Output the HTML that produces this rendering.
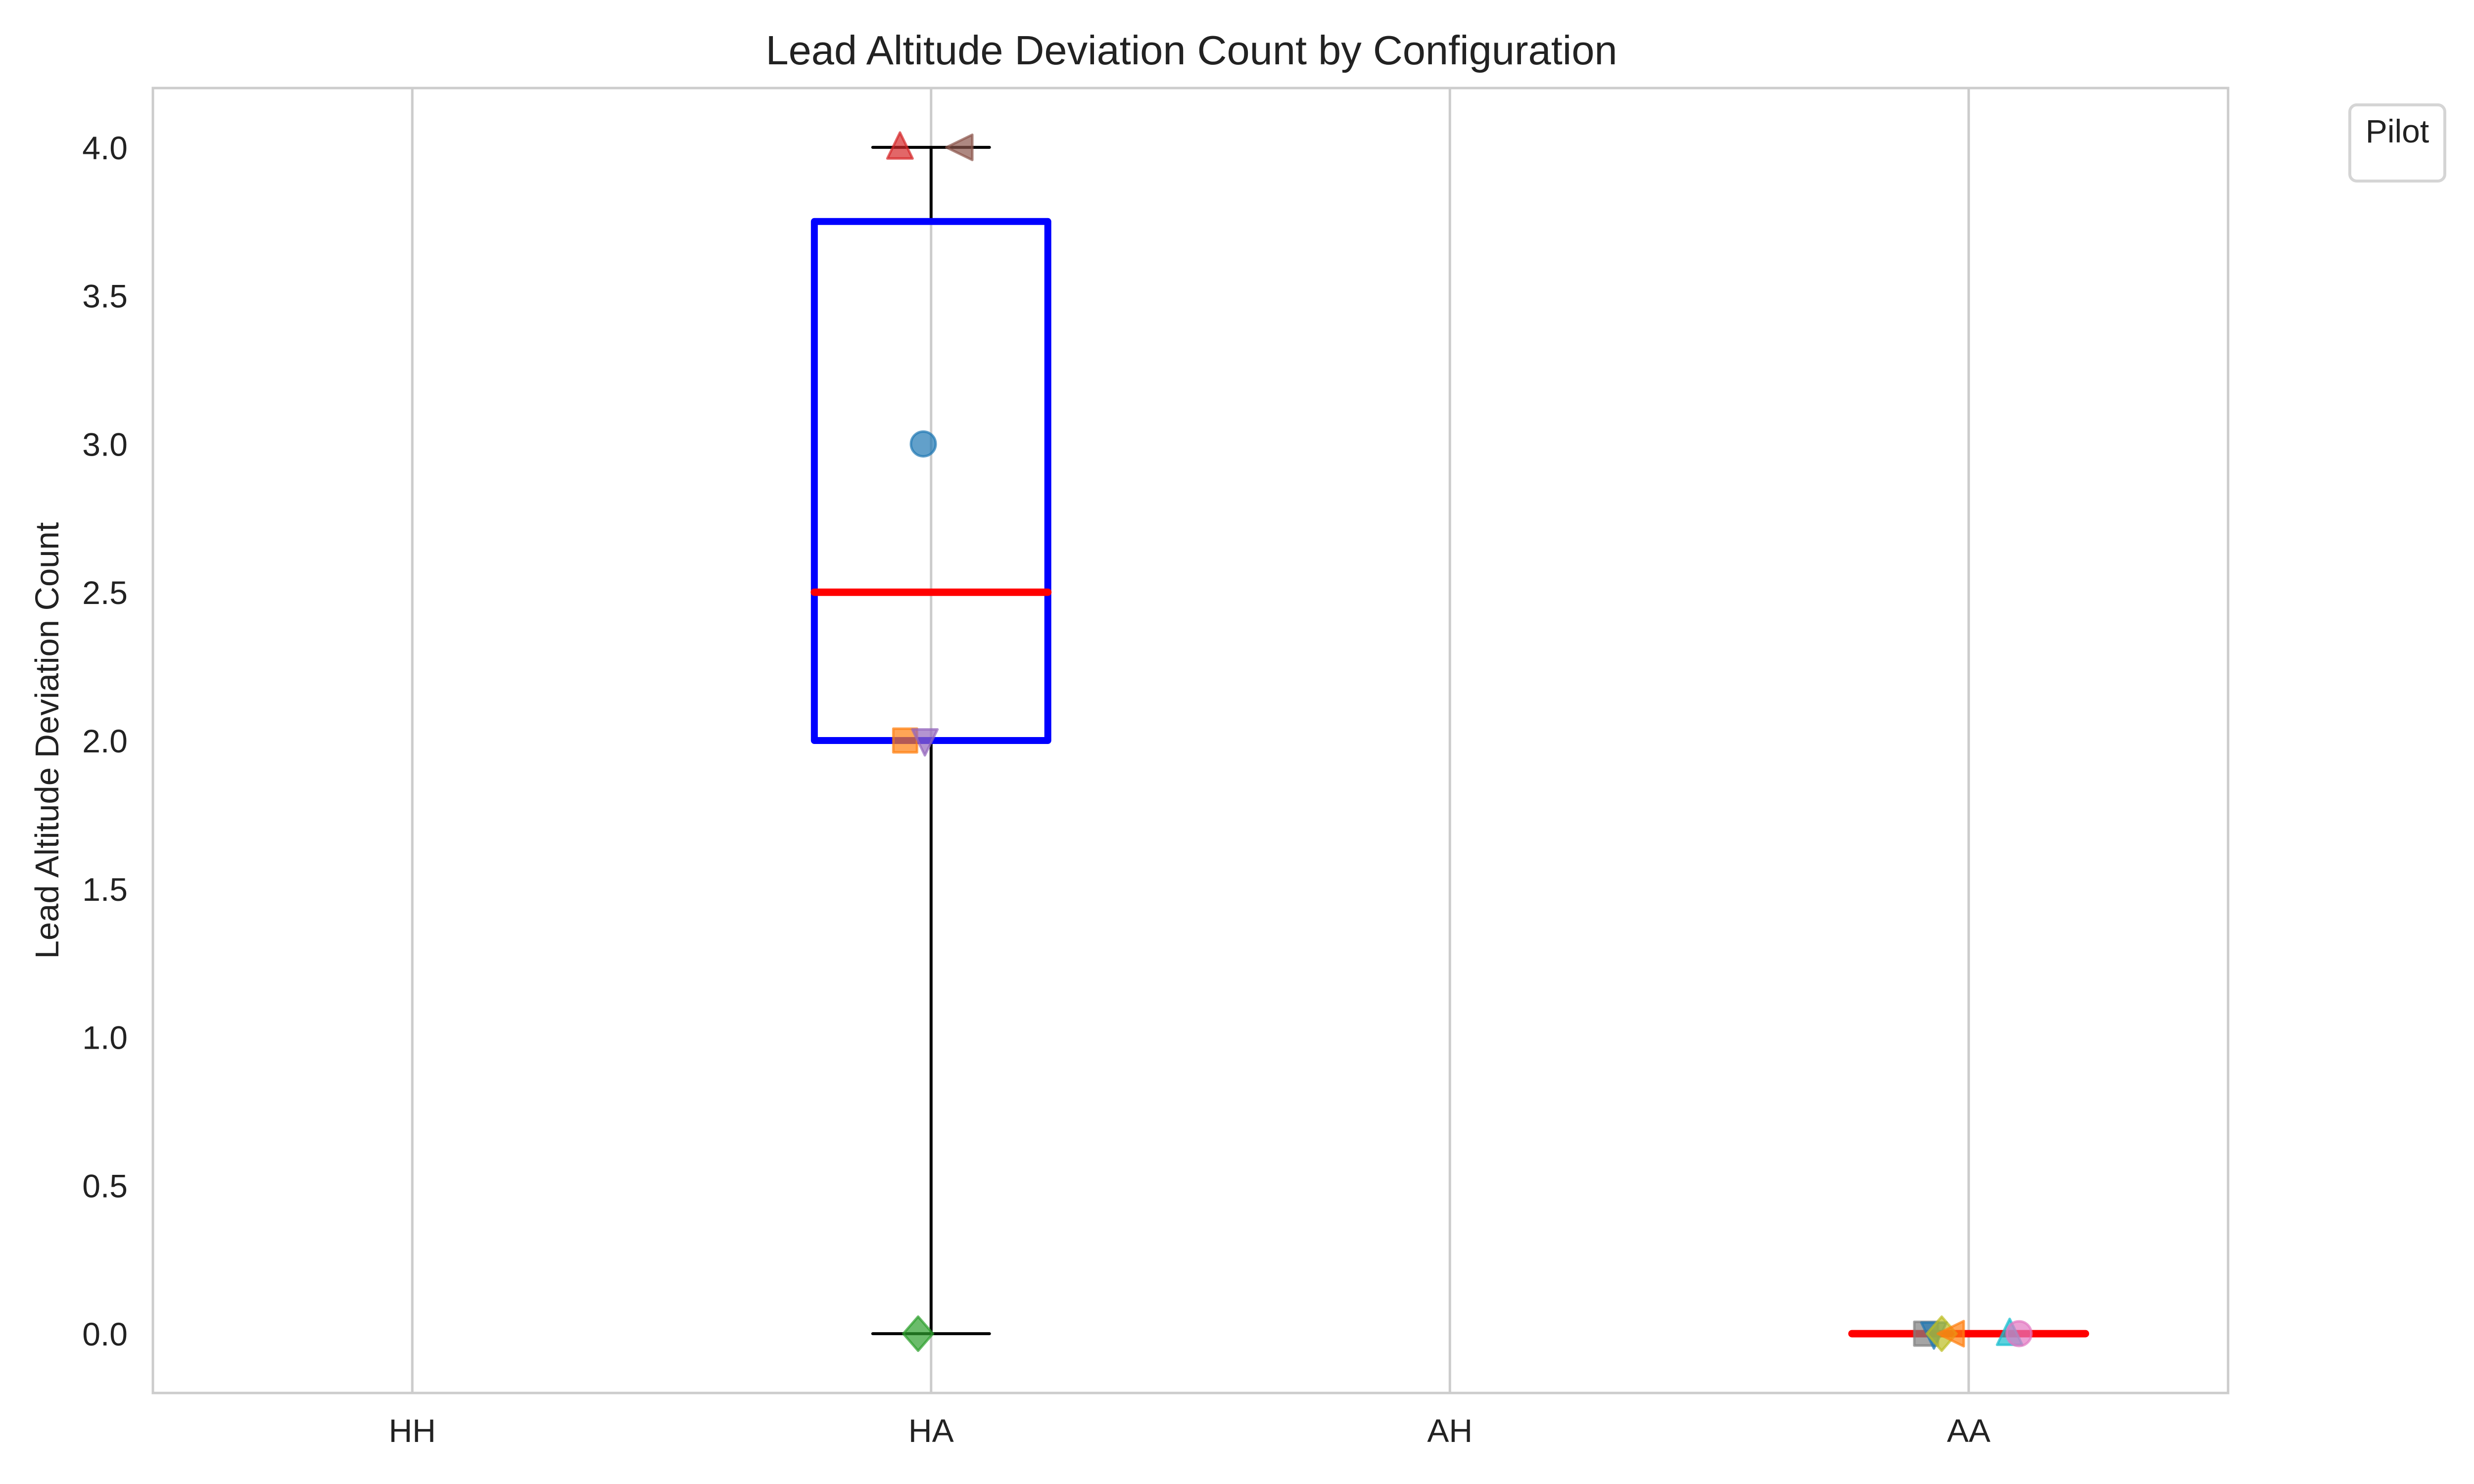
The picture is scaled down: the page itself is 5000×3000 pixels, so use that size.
<!DOCTYPE html>
<html><head><meta charset="utf-8"><style>
html,body{margin:0;padding:0;background:#fff;}
svg{display:block;font-family:"Liberation Sans",Arial,sans-serif;}
</style></head><body>
<svg id="chart" width="5000" height="3000" viewBox="0 0 5000 3000">
<rect width="5000" height="3000" fill="#fff"/>
<g id="grid"></g>
<g id="boxes"></g>
<g id="points"></g>
<rect x="309" y="178" width="4194" height="2638" fill="none" stroke="#cccccc" stroke-width="5"/>
<g id="ticks"></g>
<text x="2408" y="130" font-size="83" text-anchor="middle" fill="#222">Lead Altitude Deviation Count by Configuration</text>
<text transform="translate(118,1497) rotate(-90)" font-size="67" text-anchor="middle" fill="#222">Lead Altitude Deviation Count</text>
<g>
<rect x="4749" y="212" width="192" height="154" rx="14" fill="#fff" stroke="#d5d5d5" stroke-width="6"/>
<text x="4845" y="288" font-size="66" text-anchor="middle" fill="#222">Pilot</text>
</g>
</svg>
<script>
const categories = ["HH","HA","AH","AA"];
const yTicks = [0,0.5,1,1.5,2,2.5,3,3.5,4];
const yTickLabels = ["0.0","0.5","1.0","1.5","2.0","2.5","3.0","3.5","4.0"];
// box stats per category: [min, q1, median, q3, max] (null = no data)
const boxStats = [null,[0,2,2.5,3.75,4],null,[0,0,0,0,0]];
// individual points
const pointCat = [1,1,1,1,1,1,3,3,3,3,3,3];
const pointVal = [3,2,2,0,4,4,0,0,0,0,0,0];
const pointOffset = [-0.015,-0.05,-0.012,-0.025,-0.06,0.058,-0.082,-0.067,-0.052,-0.031,0.079,0.097];
const pointShape = ["circle","square","tridown","diamond","triup","trileft","square","tridown","diamond","trileft","triup","circle"];
const pointColor = ["#1f77b4","#ff7f0e","#9467bd","#2ca02c","#d62728","#8c564b","#7f7f7f","#1f77b4","#bcbd22","#ff7f0e","#17becf","#e377c2"];

const NS="http://www.w3.org/2000/svg";
const L=309,R=4503,T=178,B=2816;
const xMin=-0.5,xMax=3.5,yMin=-0.2,yMax=4.2;
const xs=v=>L+(v-xMin)/(xMax-xMin)*(R-L);
const ys=v=>B-(v-yMin)/(yMax-yMin)*(B-T);
function mk(tag,attrs,parent){const e=document.createElementNS(NS,tag);for(const k in attrs)e.setAttribute(k,attrs[k]);parent.appendChild(e);return e;}
const grid=document.getElementById('grid'),ticks=document.getElementById('ticks'),boxes=document.getElementById('boxes'),pts=document.getElementById('points');
categories.forEach((c,i)=>{
  const g=mk('line',{x1:xs(i),x2:xs(i),y1:T,y2:B,stroke:'#cccccc','stroke-width':5},grid);
  
  
  const t=mk('text',{x:xs(i),y:2915,'font-size':66,'text-anchor':'middle',fill:'#222'},ticks);
  t.textContent=c;
  
  
});
yTicks.forEach((v,i)=>{
  const t=mk('text',{x:258,y:ys(v)+24,'font-size':66,'text-anchor':'end',fill:'#222'},ticks);
  t.textContent=yTickLabels[i];
  
  
});
const bw=0.45,cw=0.225;
boxStats.forEach((s,i)=>{
  if(!s)return;
  const [mn,q1,md,q3,mx]=s;
  const g=mk('g',{},boxes);
  
  
  const a={stroke:'#000','stroke-width':6,'stroke-linecap':'round'};
  mk('line',Object.assign({x1:xs(i),x2:xs(i),y1:ys(q1),y2:ys(mn)},a),g);
  mk('line',Object.assign({x1:xs(i),x2:xs(i),y1:ys(q3),y2:ys(mx)},a),g);
  mk('line',Object.assign({x1:xs(i-cw/2),x2:xs(i+cw/2),y1:ys(mn),y2:ys(mn)},a),g);
  mk('line',Object.assign({x1:xs(i-cw/2),x2:xs(i+cw/2),y1:ys(mx),y2:ys(mx)},a),g);
  mk('rect',{x:xs(i-bw/2),y:ys(q3),width:xs(i+bw/2)-xs(i-bw/2),height:Math.max(0,ys(q1)-ys(q3)),fill:'none',stroke:'#0000ff','stroke-width':14,'stroke-linejoin':'round'},g);
  mk('line',{x1:xs(i-bw/2),x2:xs(i+bw/2),y1:ys(md),y2:ys(md),stroke:'#ff0000','stroke-width':15,'stroke-linecap':'round'},g);
});
pointCat.forEach((c,k)=>{
  const cx=xs(c+pointOffset[k]),cy=ys(pointVal[k]),col=pointColor[k],s=30;
  let e;
  const st={fill:col,stroke:col,'stroke-width':5,'fill-opacity':0.7,'stroke-opacity':0.7,'stroke-linejoin':'round'};
  const sh=pointShape[k];
  if(sh==='circle') e=mk('circle',Object.assign({cx:cx,cy:cy,r:25},st),pts);
  else if(sh==='square') e=mk('rect',Object.assign({x:cx-24,y:cy-24,width:48,height:48},st),pts);
  else {
    let p;
    if(sh==='triup') p=[[cx,cy-s],[cx+s*0.85,cy+s*0.75],[cx-s*0.85,cy+s*0.75]];
    else if(sh==='tridown') p=[[cx,cy+s],[cx+s*0.85,cy-s*0.75],[cx-s*0.85,cy-s*0.75]];
    else if(sh==='trileft') p=[[cx-s,cy],[cx+s*0.75,cy-s*0.85],[cx+s*0.75,cy+s*0.85]];
    else p=[[cx,cy-s*1.15],[cx+s*1.0,cy],[cx,cy+s*1.15],[cx-s*1.0,cy]];
    e=mk('polygon',Object.assign({points:p.map(q=>q.join(',')).join(' ')},st),pts);
  }
  
  
});
</script>
</body></html>
